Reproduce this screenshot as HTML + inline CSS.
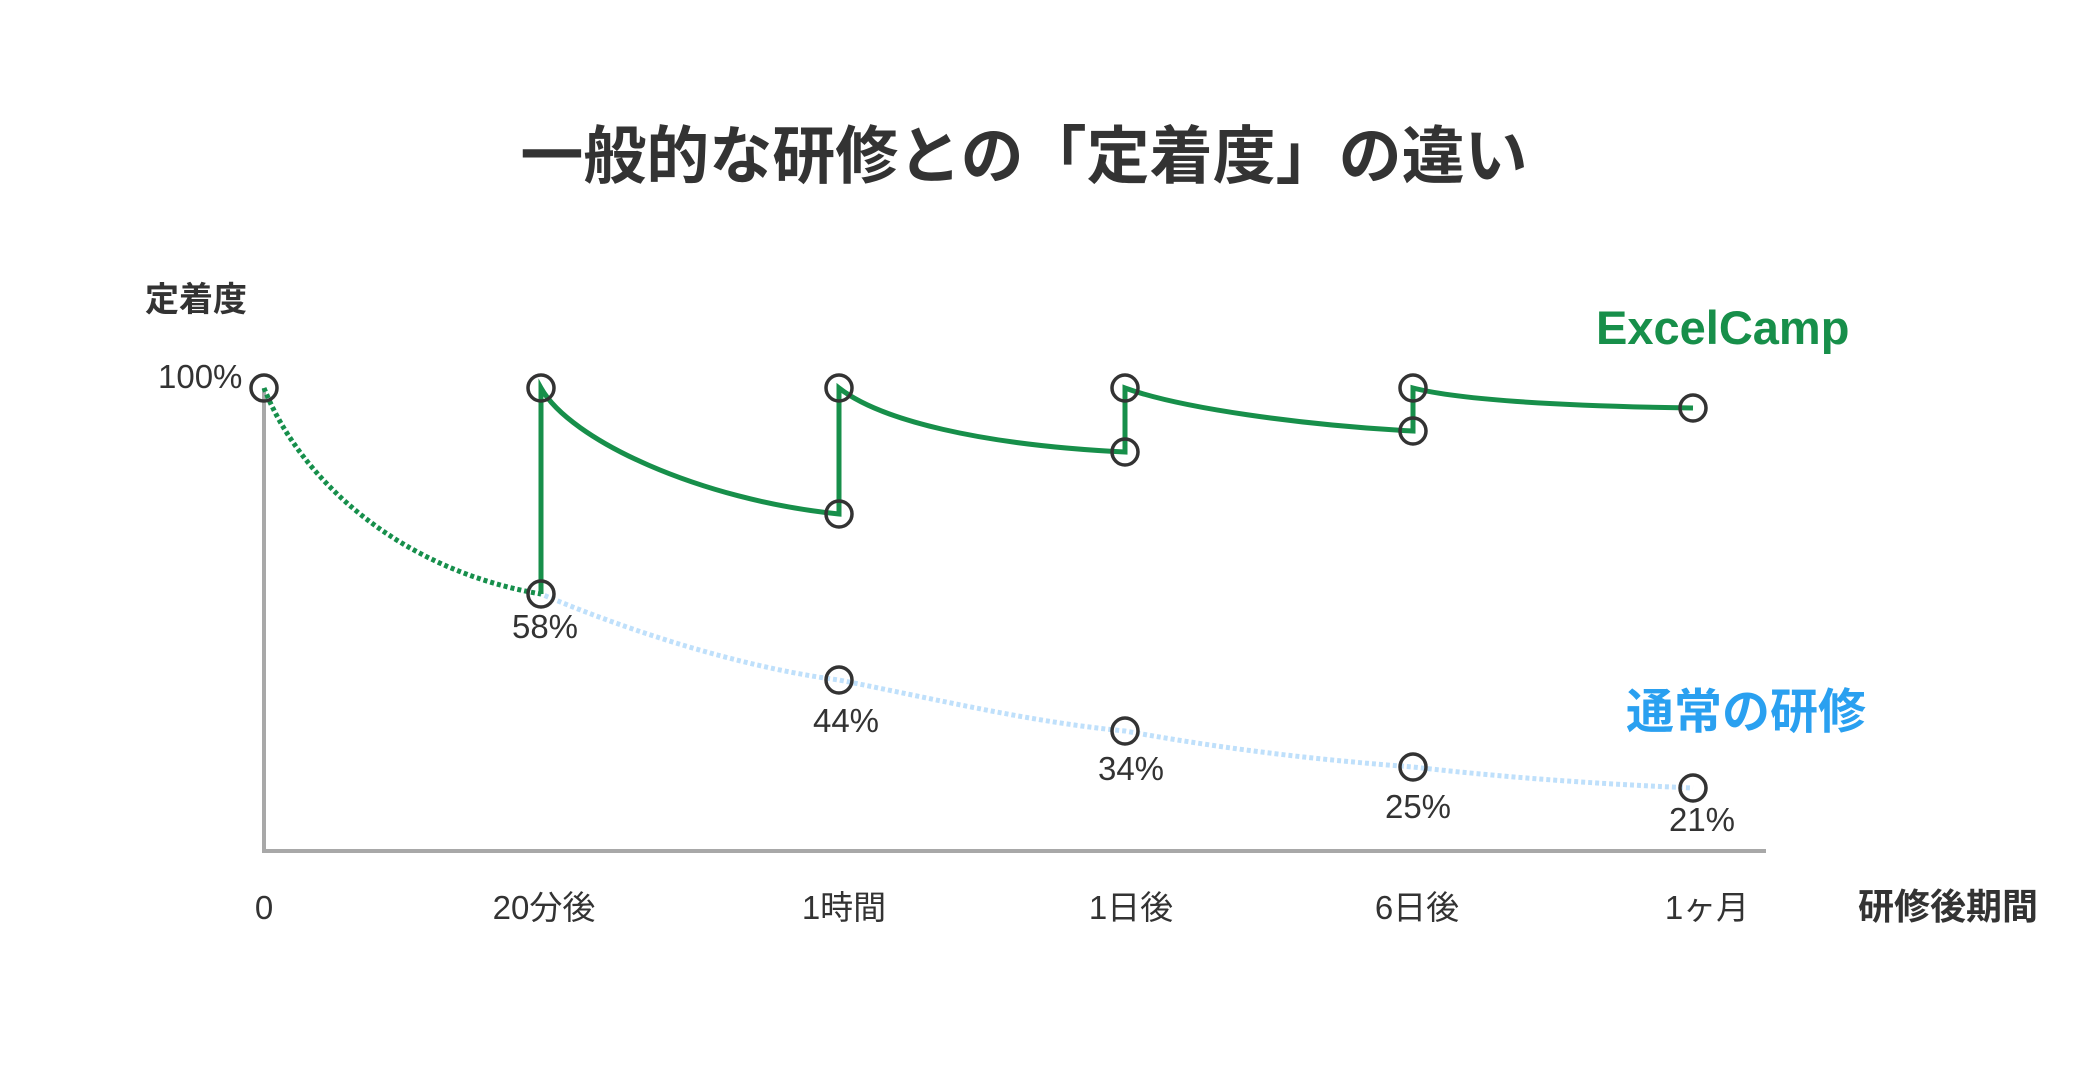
<!DOCTYPE html>
<html><head><meta charset="utf-8"><style>
html,body{margin:0;padding:0;background:#fff;}
svg{display:block;}
text{font-family:"Liberation Sans","Noto Sans CJK JP",sans-serif;fill:#333;}
</style></head><body>
<svg width="2098" height="1090" viewBox="0 0 2098 1090" xmlns="http://www.w3.org/2000/svg">
<text x="1024" y="178" font-size="63" font-weight="bold" text-anchor="middle">一般的な研修との「定着度」の違い</text>
<text x="145" y="311" font-size="34" font-weight="bold">定着度</text>
<text x="158" y="388" font-size="33">100%</text>
<path d="M264 388 V851 H1766" fill="none" stroke="#a8a8a8" stroke-width="4"/>
<path d="M264 388 C300 480 400 570 541 594 C650 640 760 670 839 680 C940 700 1030 722 1125 731 C1230 750 1320 760 1413 767 C1510 778 1600 784 1693 788" fill="none" stroke="#bfe0fb" stroke-width="5" stroke-dasharray="4 3"/>
<path d="M264 388 C300 480 400 570 541 594" fill="none" stroke="#178f4a" stroke-width="5" stroke-dasharray="4 3"/>
<g fill="none" stroke="#178f4a" stroke-width="5" stroke-linejoin="miter">
<path d="M541 594 V388 C570 440 700 500 839 514 V388 C880 420 980 445 1125 452 V388 C1180 408 1300 425 1413 431 V388 C1460 400 1560 406 1693 408"/>
</g>
<g fill="none" stroke="#333" stroke-width="3.5">
<circle cx="264" cy="388" r="13"/>
<circle cx="541" cy="388" r="13"/>
<circle cx="839" cy="388" r="13"/>
<circle cx="1125" cy="388" r="13"/>
<circle cx="1413" cy="388" r="13"/>
<circle cx="1693" cy="408" r="13"/>
<circle cx="541" cy="594" r="13"/>
<circle cx="839" cy="514" r="13"/>
<circle cx="1125" cy="452" r="13"/>
<circle cx="1413" cy="431" r="13"/>
<circle cx="839" cy="680" r="13"/>
<circle cx="1125" cy="731" r="13"/>
<circle cx="1413" cy="767" r="13"/>
<circle cx="1693" cy="788" r="13"/>
</g>
<g font-size="33" text-anchor="middle">
<text x="545" y="638">58%</text>
<text x="846" y="732">44%</text>
<text x="1131" y="780">34%</text>
<text x="1418" y="818">25%</text>
<text x="1702" y="831">21%</text>
</g>
<g font-size="33" text-anchor="middle">
<text x="264" y="919">0</text>
<text x="544" y="919">20分後</text>
<text x="844" y="919">1時間</text>
<text x="1131" y="919">1日後</text>
<text x="1417" y="919">6日後</text>
<text x="1707" y="919">1ヶ月</text>
</g>
<text x="1858" y="919" font-size="36" font-weight="bold">研修後期間</text>
<text x="1596" y="344" font-size="47" font-weight="bold" style="fill:#178f4a">ExcelCamp</text>
<text x="1626" y="728" font-size="48" font-weight="bold" style="fill:#2aa0f0">通常の研修</text>
</svg>
</body></html>
